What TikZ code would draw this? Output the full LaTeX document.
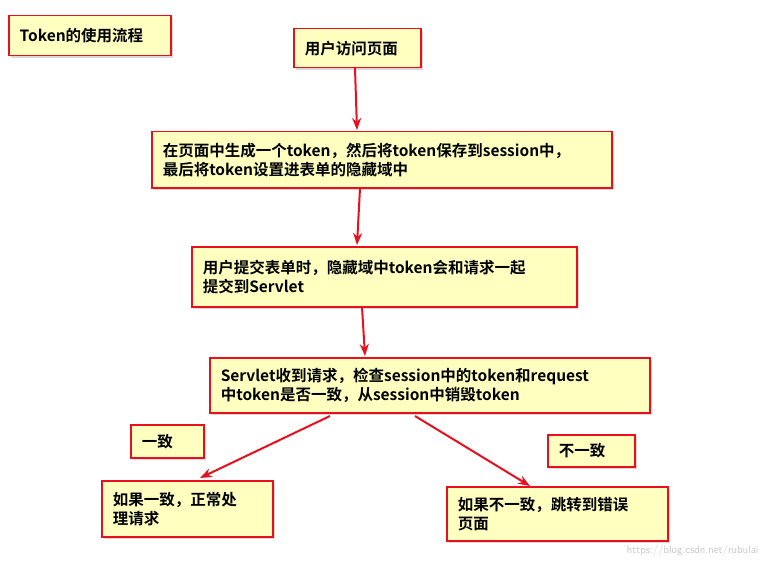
\documentclass[tikz,border=0pt]{standalone}
\usepackage{fontspec}
\newfontfamily\cjk{Noto Sans CJK SC}[BoldFont={* Bold}]
\usetikzlibrary{arrows.meta,shadows}
\definecolor{bx}{HTML}{FFFFC0}
\definecolor{rd}{HTML}{E8101E}
\tikzset{
 box/.style={draw=rd,line width=1.5pt,fill=bx,drop shadow={shadow xshift=2pt,shadow yshift=-2pt,fill=gray!60},
   anchor=north west,inner sep=0pt,font=\cjk\bfseries\fontsize{15.5pt}{19pt}\selectfont},
 arr/.style={draw=rd,line width=2pt,-{Stealth[length=12pt,width=9pt]}}
}
\newcommand\bx[6]{\node[box,minimum width=#3pt,minimum height=#4pt,align=left,text width=#3pt-22pt] (#1) at (#2) {#5#6};}
\begin{document}
\begin{tikzpicture}[x=1pt,y=-1pt]
\useasboundingbox (0,0) rectangle (767,564);
\bx{t}{8,15}{162}{40}{}{Token的使用流程}
\bx{a}{293,28}{127}{39}{}{用户访问页面}
\bx{b}{151,131}{460}{56}{}{在页面中生成一个token，然后将token保存到session中，\\最后将token设置进表单的隐藏域中}
\bx{c}{191,246}{385}{60}{}{用户提交表单时，隐藏域中token会和请求一起\\提交到Servlet}
\bx{d}{209,357}{440}{55}{}{Servlet收到请求，检查session中的token和request\\中token是否一致，从session中销毁token}
\bx{y}{130,424}{73}{33}{}{一致}
\bx{n}{547,434}{87}{32}{}{不一致}
\bx{e}{101,480}{171}{56}{}{如果一致，正常处\\理请求}
\bx{f}{446,486}{221}{54}{}{如果不一致，跳转到错误\\页面}
\coordinate (a1) at (355,68); \coordinate (b1) at (357,130);
\coordinate (b2) at (360,188); \coordinate (c1) at (357,245);
\coordinate (c2) at (362,307); \coordinate (d1) at (365,356);
\coordinate (d2) at (330,416); \coordinate (e1) at (200,478);
\coordinate (d3) at (415,416); \coordinate (f1) at (530,486);
\draw[arr] (a1) -- (b1);
\draw[arr] (b2) -- (c1);
\draw[arr] (c2) -- (d1);
\draw[arr] (d2) -- (e1);
\draw[arr] (d3) -- (f1);
\node[anchor=south east,text=gray!45,font=\sffamily\fontsize{11pt}{12pt}\selectfont] (w) at (762,560) {https://blog.csdn.net/rubulai};
\end{tikzpicture}
\end{document}
